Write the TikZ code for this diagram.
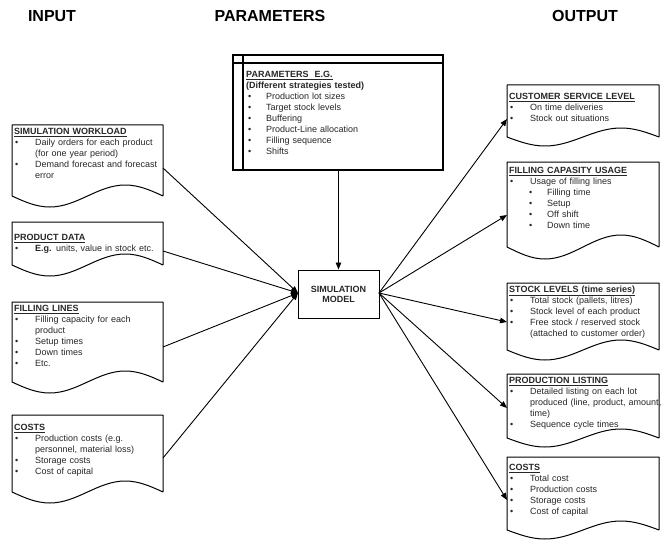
\documentclass[tikz,border=0pt]{standalone}
\usepackage{fontspec}
\setmainfont{Liberation Sans}
\usetikzlibrary{arrows.meta}
\newcommand\bitem[3]{\par\noindent\hangindent=#2\hangafter=1\makebox[#2][l]{\hspace{#1}\textbullet}#3\par}
\newcommand\Lb[1]{\bitem{1pt}{21pt}{#1}}
\newcommand\Sb[1]{\bitem{20pt}{38pt}{#1}}
\newcommand\Pb[1]{\bitem{2pt}{20pt}{#1}}
\newcommand\ttl[1]{\strut\textbf{\underline{#1}}}
\newcommand\docshape[5]{%
  \draw[box] (#3,#4) -- (#3,#2) -- (#1,#2) -- (#1,#4)
    sin ({#1+(#3-#1)/4},{#4+#5}) cos ({#1+(#3-#1)/2},#4)
    sin ({#1+3*(#3-#1)/4},{#4-#5}) cos (#3,#4);}
\tikzset{
  box/.style={line width=1pt, line join=round},
  txt/.style={anchor=north west, inner sep=0pt, text width=170pt, align=left,
    font=\fontsize{9}{11}\selectfont, text=black!85},
  arr/.style={-{Triangle[length=7pt,width=5.5pt]}, line width=0.9pt},
  head/.style={font=\bfseries\fontsize{16}{18}\selectfont}
}
\begin{document}
\begin{tikzpicture}[x=1pt,y=-1pt]
\useasboundingbox (0,0) rectangle (662,543);
% headings
\node[head] (hin) at (52,16) {INPUT};
\node[head] (hpar) at (270,16) {PARAMETERS};
\node[head] (hout) at (585,16) {OUTPUT};
% input boxes
\docshape{12}{125}{163}{196}{11}
\node[txt] (b1) at (14,126.5) {\ttl{SIMULATION WORKLOAD}
\Lb{Daily orders for each product\newline(for one year period)}
\Lb{Demand forecast and forecast\newline error}};
\docshape{12}{222}{163}{265}{11}
\node[txt] (b2) at (14,232.5) {\ttl{PRODUCT DATA}
\Lb{\textbf{E.g.} units, value in stock etc.}};
\docshape{12}{302}{163}{382}{11}
\node[txt] (b3) at (14,303.5) {\ttl{FILLING LINES}
\Lb{Filling capacity for each\newline product}
\Lb{Setup times}
\Lb{Down times}
\Lb{Etc.}};
\docshape{12}{415}{163}{492}{11}
\node[txt] (b4) at (14,422.5) {\ttl{COSTS}
\Lb{Production costs (e.g.\newline personnel, material loss)}
\Lb{Storage costs}
\Lb{Cost of capital}};
% parameters box
\draw[line width=1.4pt] (233,55) rectangle (443,170);
\draw[line width=1.2pt] (243,55) -- (243,170) (233,63) -- (443,63);
\node[txt] (par) at (246,69.5) {\ttl{PARAMETERS\ \ E.G.}\newline
\textbf{(Different strategies tested)}
\Pb{Production lot sizes}
\Pb{Target stock levels}
\Pb{Buffering}
\Pb{Product-Line allocation}
\Pb{Filling sequence}
\Pb{Shifts}};
% simulation model
\node[draw, line width=1pt, minimum width=81pt, minimum height=48pt, inner sep=0pt,
  align=center, font=\bfseries\fontsize{9}{10}\selectfont, text=black!85] (sim) at (338.5,294) {SIMULATION\\MODEL};
% output boxes
\docshape{507}{85}{659}{137}{9}
\node[txt] (r1) at (509,91.5) {\ttl{CUSTOMER SERVICE LEVEL}
\Lb{On time deliveries}
\Lb{Stock out situations}};
\docshape{507}{162}{659}{247}{12}
\node[txt] (r2) at (509,165.5) {\ttl{FILLING CAPASITY USAGE}
\Lb{Usage of filling lines}
\Sb{Filling time}
\Sb{Setup}
\Sb{Off shift}
\Sb{Down time}};
\docshape{507}{283}{659}{350}{10}
\node[txt] (r3) at (509,284.5) {\ttl{STOCK LEVELS (time series)}
\Lb{Total stock (pallets, litres)}
\Lb{Stock level of each product}
\Lb{Free stock / reserved stock\newline(attached to customer order)}};
\docshape{507}{374}{659}{438}{9}
\node[txt] (r4) at (509,375.5) {\ttl{PRODUCTION LISTING}
\Lb{Detailed listing on each lot\newline produced (line, product, amount,\newline time)}
\Lb{Sequence cycle times}};
\docshape{507}{457}{659}{530}{9}
\node[txt] (r5) at (509,462.5) {\ttl{COSTS}
\Lb{Total cost}
\Lb{Production costs}
\Lb{Storage costs}
\Lb{Cost of capital}};
% connector end points
\coordinate (o1) at (163,168);
\coordinate (o2) at (163,251);
\coordinate (o3) at (163,347);
\coordinate (o4) at (163,458);
\coordinate (pb) at (338.5,170);
\coordinate (sl) at (298,293);
\coordinate (sr) at (379,293);
\coordinate (i1) at (507,119);
\coordinate (i2) at (507,215);
\coordinate (i3) at (507,322);
\coordinate (i4) at (507,408);
\coordinate (i5) at (507,500);
\foreach \p in {o1,o2,o3,o4} \draw[arr] (\p) -- (sl);
\draw[arr] (pb) -- (sim.north);
\foreach \p in {i1,i2,i3,i4,i5} \draw[arr] (sr) -- (\p);
\end{tikzpicture}
\end{document}
